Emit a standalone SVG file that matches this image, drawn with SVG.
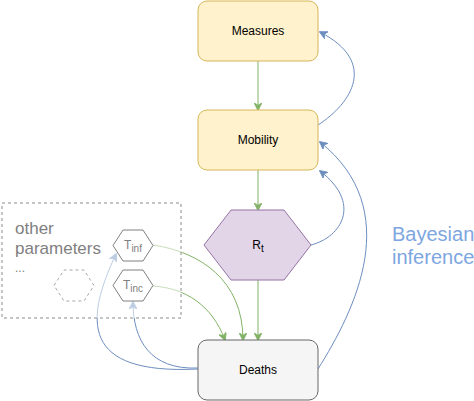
<svg xmlns="http://www.w3.org/2000/svg" width="474" height="401" viewBox="0 0 474 401">
<style>
.lbl{font-family:"Liberation Sans",Arial,sans-serif;font-size:12px;fill:#000;text-anchor:middle}
.g{fill:none;stroke:#82b366;stroke-width:1}
.b{fill:none;stroke:#6c8ebf;stroke-width:1}
.par{font-family:"Liberation Sans",Arial,sans-serif;fill:#808080}
</style>
<defs>
<marker id="ag" viewBox="0 0 10 10" refX="9" refY="5" markerWidth="8" markerHeight="8" markerUnits="userSpaceOnUse" orient="auto"><path d="M0,0 L10,5 L0,10 L3,5 Z" fill="#82b366" stroke="#82b366" stroke-width="1"/></marker>
<marker id="ab" viewBox="0 0 10 10" refX="9" refY="5" markerWidth="8" markerHeight="8" markerUnits="userSpaceOnUse" orient="auto"><path d="M0,0 L10,5 L0,10 L3,5 Z" fill="#6c8ebf" stroke="#6c8ebf" stroke-width="1"/></marker>
</defs>
<rect width="474" height="401" fill="#fff"/>
<g id="connectors">
<path class="g" d="M258,61 L258,110" marker-end="url(#ag)"/>
<path class="g" d="M258,170 L258,210" marker-end="url(#ag)"/>
<path class="g" d="M258,280 L258,340" marker-end="url(#ag)"/>
<path class="g" d="M153,245 C200,252 243,280 243,340" marker-end="url(#ag)"/>
<path class="g" d="M153,286 C185,288 212,305 225,340" marker-end="url(#ag)"/>
<path class="b" d="M318,125 C352,103 378,62 320,32" marker-end="url(#ab)"/>
<path class="b" d="M311,245 C342,237 362,203 320,171" marker-end="url(#ab)"/>
<path class="b" d="M318,369 C355,310 405,210 320,142" marker-end="url(#ab)"/>
<path class="b" d="M198,369 C80,375 85,320 116,254" marker-end="url(#ab)"/>
<path class="b" d="M198,368 C150,370 133,340 133,302" marker-end="url(#ab)"/>
</g>
<g id="other-parameters">
<rect x="2" y="203" width="179" height="115" fill="#fff" fill-opacity="0.55" stroke="#b3b3b3" stroke-width="1.5" stroke-dasharray="3 3"/>
<text class="par" x="15" y="234" font-size="17">other</text>
<text class="par" x="15" y="254" font-size="17">parameters</text>
<text class="par" x="15" y="272" font-size="12">...</text>
</g>
<g id="hidden-param">
<polygon points="54,285.5 64,270 84,270 94,285.5 84,301 64,301" fill="#fff" stroke="#a6a6a6" stroke-dasharray="3 3"/>
</g>
<g id="Tinf">
<polygon points="113,245.5 123,230 143,230 153,245.5 143,261 123,261" fill="#fff" stroke="#808080"/>
<text class="par" x="133" y="249" font-size="12" text-anchor="middle">T<tspan dy="3" font-size="10">inf</tspan></text>
</g>
<g id="Tinc">
<polygon points="113,285.5 123,270 143,270 153,285.5 143,301 123,301" fill="#fff" stroke="#808080"/>
<text class="par" x="133" y="289" font-size="12" text-anchor="middle">T<tspan dy="3" font-size="10">inc</tspan></text>
</g>
<g id="Measures">
<rect x="198" y="1" width="120" height="60" rx="9" fill="#fff2cc" stroke="#d6b656"/>
<text class="lbl" x="258" y="35">Measures</text>
</g>
<g id="Mobility">
<rect x="198" y="110" width="120" height="60" rx="9" fill="#fff2cc" stroke="#d6b656"/>
<text class="lbl" x="258" y="144">Mobility</text>
</g>
<g id="Rt">
<polygon points="204,245 231,210 284,210 311,245 284,280 231,280" fill="#e1d5e7" stroke="#9673a6"/>
<text class="lbl" x="258" y="249">R<tspan dy="3" font-size="10">t</tspan></text>
</g>
<g id="Deaths">
<rect x="198" y="340" width="120" height="60" rx="9" fill="#f5f5f5" stroke="#666666"/>
<text class="lbl" x="258" y="374" fill="#333">Deaths</text>
</g>
<g id="bayesian-label">
<text class="par" x="392" y="241" font-size="20" fill="#7ea6e0" style="fill:#7ea6e0">Bayesian</text>
<text class="par" x="392" y="264" font-size="20" style="fill:#7ea6e0">inference</text>
</g>
</svg>
